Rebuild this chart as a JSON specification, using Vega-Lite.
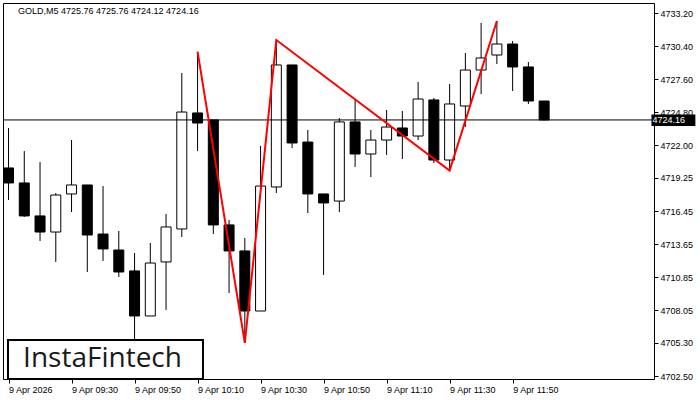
{
  "$schema": "https://vega.github.io/schema/vega-lite/v6.json",
  "width": 651,
  "height": 376,
  "autosize": {"type": "none"},
  "padding": {"left": 3, "top": 3, "right": 46, "bottom": 21},
  "background": "white",
  "title": {
    "text": "GOLD,M5  4725.76 4725.76 4724.12 4724.16",
    "anchor": "start", "frame": "group", "orient": "top",
    "offset": 0, "baseline": "top", "dx": 15, "dy": 13,
    "font": "Liberation Sans", "fontSize": 9, "fontWeight": "normal", "color": "black"
  },
  "config": {
    "view": {"stroke": "black", "strokeWidth": 1},
    "axis": {
      "labelFont": "Liberation Sans", "labelFontSize": 9, "labelColor": "black",
      "tickColor": "black", "tickSize": 4, "domain": false, "grid": false,
      "labelOverlap": false, "labelFlush": false, "labelBound": false, "title": null
    }
  },
  "datasets": {
    "candles": [
      {"t": "2026-04-09T09:10:00Z", "o": 4720.10, "h": 4723.48, "l": 4717.39, "c": 4718.83},
      {"t": "2026-04-09T09:15:00Z", "o": 4718.83, "h": 4721.53, "l": 4715.95, "c": 4716.04},
      {"t": "2026-04-09T09:20:00Z", "o": 4716.04, "h": 4720.60, "l": 4713.92, "c": 4714.68},
      {"t": "2026-04-09T09:25:00Z", "o": 4714.68, "h": 4717.98, "l": 4712.15, "c": 4717.81},
      {"t": "2026-04-09T09:30:00Z", "o": 4717.90, "h": 4722.46, "l": 4716.37, "c": 4718.66},
      {"t": "2026-04-09T09:35:00Z", "o": 4718.66, "h": 4718.66, "l": 4711.30, "c": 4714.43},
      {"t": "2026-04-09T09:40:00Z", "o": 4714.51, "h": 4718.57, "l": 4712.23, "c": 4713.25},
      {"t": "2026-04-09T09:45:00Z", "o": 4713.16, "h": 4714.77, "l": 4710.88, "c": 4711.30},
      {"t": "2026-04-09T09:50:00Z", "o": 4711.39, "h": 4712.91, "l": 4705.50, "c": 4707.58},
      {"t": "2026-04-09T09:55:00Z", "o": 4707.58, "h": 4713.75, "l": 4707.58, "c": 4712.06},
      {"t": "2026-04-09T10:00:00Z", "o": 4712.15, "h": 4716.21, "l": 4708.09, "c": 4715.11},
      {"t": "2026-04-09T10:05:00Z", "o": 4714.94, "h": 4728.13, "l": 4714.26, "c": 4724.83},
      {"t": "2026-04-09T10:10:00Z", "o": 4724.75, "h": 4729.91, "l": 4721.53, "c": 4723.90},
      {"t": "2026-04-09T10:15:00Z", "o": 4724.16, "h": 4724.16, "l": 4714.51, "c": 4715.28},
      {"t": "2026-04-09T10:20:00Z", "o": 4715.28, "h": 4715.70, "l": 4709.52, "c": 4713.08},
      {"t": "2026-04-09T10:25:00Z", "o": 4713.08, "h": 4714.18, "l": 4705.30, "c": 4708.00},
      {"t": "2026-04-09T10:30:00Z", "o": 4708.00, "h": 4721.96, "l": 4708.00, "c": 4718.57},
      {"t": "2026-04-09T10:35:00Z", "o": 4718.49, "h": 4730.92, "l": 4717.98, "c": 4728.81},
      {"t": "2026-04-09T10:40:00Z", "o": 4728.81, "h": 4728.81, "l": 4721.79, "c": 4722.21},
      {"t": "2026-04-09T10:45:00Z", "o": 4722.29, "h": 4723.31, "l": 4716.29, "c": 4717.90},
      {"t": "2026-04-09T10:50:00Z", "o": 4717.90, "h": 4717.90, "l": 4711.05, "c": 4717.14},
      {"t": "2026-04-09T10:55:00Z", "o": 4717.30, "h": 4724.32, "l": 4716.37, "c": 4723.99},
      {"t": "2026-04-09T11:00:00Z", "o": 4723.99, "h": 4725.85, "l": 4720.18, "c": 4721.28},
      {"t": "2026-04-09T11:05:00Z", "o": 4721.28, "h": 4723.31, "l": 4719.33, "c": 4722.46},
      {"t": "2026-04-09T11:10:00Z", "o": 4722.46, "h": 4725.00, "l": 4721.20, "c": 4723.56},
      {"t": "2026-04-09T11:15:00Z", "o": 4723.48, "h": 4724.92, "l": 4720.86, "c": 4722.80},
      {"t": "2026-04-09T11:20:00Z", "o": 4722.80, "h": 4727.37, "l": 4722.46, "c": 4725.93},
      {"t": "2026-04-09T11:25:00Z", "o": 4725.85, "h": 4726.02, "l": 4720.52, "c": 4720.77},
      {"t": "2026-04-09T11:30:00Z", "o": 4720.77, "h": 4727.20, "l": 4719.87, "c": 4725.51},
      {"t": "2026-04-09T11:35:00Z", "o": 4725.34, "h": 4729.82, "l": 4723.56, "c": 4728.38},
      {"t": "2026-04-09T11:40:00Z", "o": 4728.38, "h": 4732.36, "l": 4726.35, "c": 4729.40},
      {"t": "2026-04-09T11:45:00Z", "o": 4729.65, "h": 4732.53, "l": 4728.89, "c": 4730.58},
      {"t": "2026-04-09T11:50:00Z", "o": 4730.58, "h": 4730.84, "l": 4726.61, "c": 4728.64},
      {"t": "2026-04-09T11:55:00Z", "o": 4728.64, "h": 4729.06, "l": 4725.51, "c": 4725.76},
      {"t": "2026-04-09T12:00:00Z", "o": 4725.76, "h": 4725.76, "l": 4724.12, "c": 4724.16}
    ],
    "pattern": [
      {"t": "2026-04-09T10:10:00Z", "p": 4729.93},
      {"t": "2026-04-09T10:25:00Z", "p": 4705.30},
      {"t": "2026-04-09T10:35:00Z", "p": 4730.92},
      {"t": "2026-04-09T11:30:00Z", "p": 4719.87},
      {"t": "2026-04-09T11:45:00Z", "p": 4732.53}
    ],
    "last": [{"p": 4724.16, "label": "4724.16"}]
  },
  "layer": [
    {
      "data": {"name": "candles"},
      "mark": {"type": "rule", "color": "black", "strokeWidth": 1},
      "encoding": {
        "x": {
          "field": "t", "type": "temporal",
          "scale": {"type": "utc", "domain": [
            {"year": 2026, "month": 4, "date": 9, "hours": 9, "minutes": 9, "seconds": 50, "utc": true},
            {"year": 2026, "month": 4, "date": 9, "hours": 12, "minutes": 33, "seconds": 17, "utc": true}
          ]},
          "axis": {
            "values": [
              {"year": 2026, "month": 4, "date": 9, "hours": 9, "minutes": 10, "utc": true},
              {"year": 2026, "month": 4, "date": 9, "hours": 9, "minutes": 30, "utc": true},
              {"year": 2026, "month": 4, "date": 9, "hours": 9, "minutes": 50, "utc": true},
              {"year": 2026, "month": 4, "date": 9, "hours": 10, "minutes": 10, "utc": true},
              {"year": 2026, "month": 4, "date": 9, "hours": 10, "minutes": 30, "utc": true},
              {"year": 2026, "month": 4, "date": 9, "hours": 10, "minutes": 50, "utc": true},
              {"year": 2026, "month": 4, "date": 9, "hours": 11, "minutes": 10, "utc": true},
              {"year": 2026, "month": 4, "date": 9, "hours": 11, "minutes": 30, "utc": true},
              {"year": 2026, "month": 4, "date": 9, "hours": 11, "minutes": 50, "utc": true}
            ],
            "tickCount": 30,
            "labelExpr": "utcFormat(datum.value, '%H:%M') == '09:10' ? '9 Apr 2026' : '9 Apr ' + utcFormat(datum.value, '%H:%M')",
            "labelAlign": "left", "labelBaseline": "top", "labelPadding": 2,
            "labelOverlap": false, "labelFlush": false
          }
        },
        "y": {
          "field": "l", "type": "quantitative",
          "scale": {"domain": [4702.25, 4734.05], "zero": false, "nice": false},
          "axis": {
            "orient": "right",
            "values": [4702.50, 4705.30, 4708.05, 4710.85, 4713.65, 4716.45, 4719.25, 4722.00, 4724.80, 4727.60, 4730.40, 4733.20],
            "tickCount": 30,
            "format": ".2f", "labelPadding": 2, "labelAlign": "left", "labelBaseline": "middle",
            "labelOverlap": false, "labelFlush": false
          }
        },
        "y2": {"field": "h"}
      }
    },
    {
      "data": {"name": "candles"},
      "mark": {"type": "bar", "width": 10, "stroke": "black", "strokeWidth": 1},
      "encoding": {
        "x": {"field": "t", "type": "temporal"},
        "y": {"field": "o", "type": "quantitative"},
        "y2": {"field": "c"},
        "fill": {"condition": {"test": "datum.o > datum.c", "value": "black"}, "value": "white"}
      }
    },
    {
      "data": {"name": "last"},
      "mark": {"type": "rule", "color": "black", "strokeWidth": 1},
      "encoding": {"y": {"field": "p", "type": "quantitative"}}
    },
    {
      "data": {"name": "pattern"},
      "mark": {"type": "line", "color": "#ff0000", "strokeWidth": 2},
      "encoding": {
        "x": {"field": "t", "type": "temporal"},
        "y": {"field": "p", "type": "quantitative"}
      }
    },
    {
      "data": {"values": [{}]},
      "mark": {"type": "rect", "fill": "white", "stroke": "black", "strokeWidth": 2},
      "encoding": {
        "x": {"datum": {"year": 2026, "month": 4, "date": 9, "hours": 9, "minutes": 9, "seconds": 50, "utc": true}, "type": "temporal"},
        "x2": {"datum": {"year": 2026, "month": 4, "date": 9, "hours": 10, "minutes": 11, "seconds": 43, "utc": true}},
        "y": {"datum": 4702.25, "type": "quantitative"},
        "y2": {"datum": 4705.55}
      }
    },
    {
      "data": {"values": [{}]},
      "mark": {"type": "text", "text": "InstaFintech", "font": "Open Sans", "fontSize": 28, "color": "#1a1a1a", "align": "center", "baseline": "middle"},
      "encoding": {
        "x": {"datum": {"year": 2026, "month": 4, "date": 9, "hours": 9, "minutes": 39, "seconds": 50, "utc": true}, "type": "temporal"},
        "y": {"datum": 4703.94, "type": "quantitative"}
      }
    },
    {
      "data": {"values": [{}]},
      "mark": {"type": "rect", "fill": "black"},
      "encoding": {
        "x": {"datum": {"year": 2026, "month": 4, "date": 9, "hours": 12, "minutes": 34, "seconds": 4, "utc": true}, "type": "temporal"},
        "x2": {"datum": {"year": 2026, "month": 4, "date": 9, "hours": 12, "minutes": 48, "seconds": 0, "utc": true}},
        "y": {"datum": 4724.62, "type": "quantitative"},
        "y2": {"datum": 4723.65}
      }
    },
    {
      "data": {"name": "last"},
      "mark": {"type": "text", "font": "Liberation Sans", "fontSize": 9, "color": "white", "align": "left", "baseline": "middle"},
      "encoding": {
        "x": {"datum": {"year": 2026, "month": 4, "date": 9, "hours": 12, "minutes": 34, "seconds": 23, "utc": true}, "type": "temporal"},
        "y": {"field": "p", "type": "quantitative"},
        "text": {"field": "label"}
      }
    }
  ]
}
